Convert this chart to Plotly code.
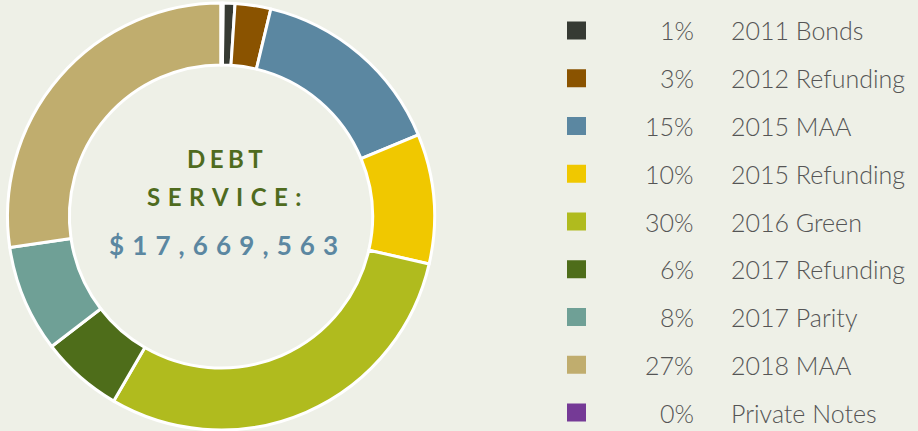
import plotly.graph_objects as go

# ---- data ----
labels = ["2011 Bonds", "2012 Refunding", "2015 MAA", "2015 Refunding", "2016 Green",
          "2017 Refunding", "2017 Parity", "2018 MAA", "Private Notes"]
shares = [0.9, 2.7, 15.0, 9.8, 29.8, 6.2, 8.1, 27.3, 0.15]
pct_labels = ["1%", "3%", "15%", "10%", "30%", "6%", "8%", "27%", "0%"]
colors = ["#363a33", "#8a5300", "#5b87a1", "#f0c800", "#b0bb1e",
          "#4e6d1a", "#6fa096", "#c0ad6e", "#753a96"]
title_lines = ["DEBT", "SERVICE:"]
total_text = "$17,669,563"

W, H = 918, 431
BG = "#eef0e7"

# start the first slice right after the tiny last slice so the last one sits at 12 o'clock
rotation = shares[-1] / sum(shares) * 360

fig = go.Figure(go.Pie(
    labels=labels, values=shares, sort=False, direction="clockwise",
    rotation=rotation, hole=0.71,
    marker=dict(colors=colors, line=dict(color="white", width=3)),
    textinfo="none", hoverinfo="label+percent", showlegend=False,
    domain=dict(x=[6 / W, 436 / W], y=[1 - 430 / H, 1 - 3 / H]),
))

def spaced(s, sep):
    return sep.join(list(s))

ann = []
shapes = []
# centre text
ann.append(dict(x=225 / W, y=1 - 158 / H, xref="paper", yref="paper", showarrow=False,
                text=spaced(title_lines[0], "\u2009\u200a"), xanchor="center", yanchor="middle",
                font=dict(family="Lato", size=24, color="#4f6b1e", weight="bold")))
ann.append(dict(x=224 / W, y=1 - 196 / H, xref="paper", yref="paper", showarrow=False,
                text=spaced(title_lines[1], "\u2009\u2009\u200a"), xanchor="center", yanchor="middle",
                font=dict(family="Lato", size=24, color="#4f6b1e", weight="bold")))
ann.append(dict(x=223 / W, y=1 - 245 / H, xref="paper", yref="paper", showarrow=False,
                text=spaced(total_text, "\u2009\u2009\u200a"), xanchor="center", yanchor="middle",
                font=dict(family="Lato", size=26, color="#5b87a1", weight="bold")))

# legend
for i, (lab, pct, col) in enumerate(zip(labels, pct_labels, colors)):
    yc = 30.5 + i * 47.75
    shapes.append(dict(type="rect", xref="paper", yref="paper",
                       x0=567 / W, x1=586 / W, y0=1 - (yc + 9) / H, y1=1 - (yc - 9) / H,
                       fillcolor=col, line=dict(width=0)))
    ann.append(dict(x=696 / W, y=1 - yc / H, xref="paper", yref="paper", showarrow=False,
                    text=pct, xanchor="right", yanchor="middle",
                    font=dict(family="Lato", size=25, color="#555555", weight=300)))
    ann.append(dict(x=729 / W, y=1 - yc / H, xref="paper", yref="paper", showarrow=False,
                    text=lab, xanchor="left", yanchor="middle",
                    font=dict(family="Lato", size=25, color="#555555", weight=300)))

fig.update_layout(width=W, height=H, margin=dict(l=0, r=0, t=0, b=0),
                  paper_bgcolor=BG, plot_bgcolor=BG,
                  annotations=ann, shapes=shapes)

fig.write_html("out.html", config={"displayModeBar": False},
               post_script="document.body.style.margin='0';document.body.style.background='%s';" % BG)
